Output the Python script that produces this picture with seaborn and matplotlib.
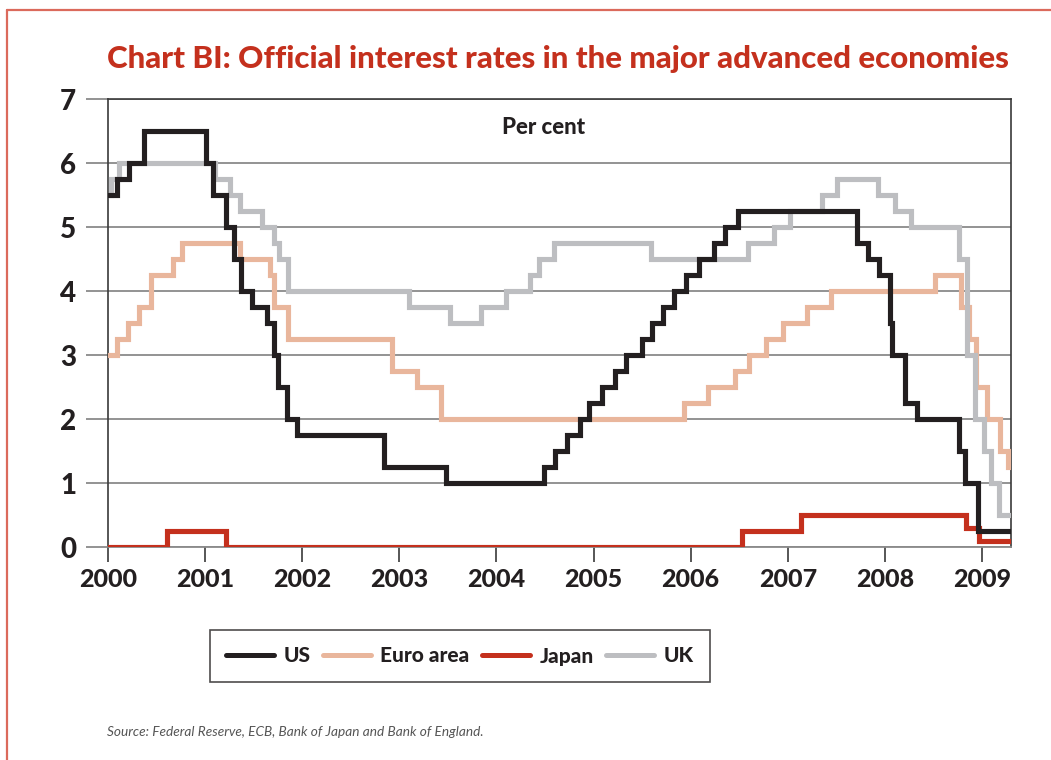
import matplotlib
matplotlib.use("Agg")
import matplotlib.pyplot as plt
from matplotlib.lines import Line2D
import seaborn as sns
import pandas as pd

# ---------------- data (policy rate changes: date -> new rate, per cent) ----------------
END_DATE = "2009-04-20"

us_dates = ["2000-01-01", "2000-02-02", "2000-03-21", "2000-05-16",
            "2001-01-03", "2001-01-31", "2001-03-20", "2001-04-18", "2001-05-15",
            "2001-06-27", "2001-08-21", "2001-09-17", "2001-10-02", "2001-11-06",
            "2001-12-11", "2002-11-06", "2003-06-25",
            "2004-06-30", "2004-08-10", "2004-09-21", "2004-11-10", "2004-12-14",
            "2005-02-02", "2005-03-22", "2005-05-03", "2005-06-30", "2005-08-09",
            "2005-09-20", "2005-11-01", "2005-12-13",
            "2006-01-31", "2006-03-28", "2006-05-10", "2006-06-29",
            "2007-09-18", "2007-10-31", "2007-12-11",
            "2008-01-22", "2008-01-30", "2008-03-18", "2008-04-30",
            "2008-10-08", "2008-10-29", "2008-12-16", END_DATE]
us_rates = [5.5, 5.75, 6.0, 6.5,
            6.0, 5.5, 5.0, 4.5, 4.0,
            3.75, 3.5, 3.0, 2.5, 2.0,
            1.75, 1.25, 1.0,
            1.25, 1.5, 1.75, 2.0, 2.25,
            2.5, 2.75, 3.0, 3.25, 3.5,
            3.75, 4.0, 4.25,
            4.5, 4.75, 5.0, 5.25,
            4.75, 4.5, 4.25,
            3.5, 3.0, 2.25, 2.0,
            1.5, 1.0, 0.25, 0.25]

euro_dates = ["2000-01-01", "2000-02-04", "2000-03-17", "2000-04-28", "2000-06-09",
              "2000-09-01", "2000-10-06", "2001-05-11", "2001-08-31", "2001-09-18",
              "2001-11-09", "2002-12-06", "2003-03-07", "2003-06-06", "2005-12-06",
              "2006-03-08", "2006-06-15", "2006-08-09", "2006-10-11", "2006-12-13",
              "2007-03-14", "2007-06-13", "2008-07-09", "2008-10-15", "2008-11-12",
              "2008-12-10", "2009-01-21", "2009-03-11", "2009-04-08", END_DATE]
euro_rates = [3.0, 3.25, 3.5, 3.75, 4.25,
              4.5, 4.75, 4.5, 4.25, 3.75,
              3.25, 2.75, 2.5, 2.0, 2.25,
              2.5, 2.75, 3.0, 3.25, 3.5,
              3.75, 4.0, 4.25, 3.75, 3.25,
              2.5, 2.0, 1.5, 1.25, 1.25]

japan_dates = ["2000-01-01", "2000-08-11", "2001-03-19", "2006-07-14",
               "2007-02-21", "2008-10-31", "2008-12-19", END_DATE]
japan_rates = [0.0, 0.25, 0.0, 0.25, 0.5, 0.3, 0.1, 0.1]

uk_dates = ["2000-01-01", "2000-01-13", "2000-02-10",
            "2001-02-08", "2001-04-05", "2001-05-10", "2001-08-02", "2001-09-18",
            "2001-10-04", "2001-11-08", "2003-02-06", "2003-07-10", "2003-11-06",
            "2004-02-05", "2004-05-06", "2004-06-10", "2004-08-05", "2005-08-04",
            "2006-08-03", "2006-11-09", "2007-01-11", "2007-05-10", "2007-07-05",
            "2007-12-06", "2008-02-07", "2008-04-10", "2008-10-08", "2008-11-06",
            "2008-12-04", "2009-01-08", "2009-02-05", "2009-03-05", END_DATE]
uk_rates = [5.5, 5.75, 6.0,
            5.75, 5.5, 5.25, 5.0, 4.75,
            4.5, 4.0, 3.75, 3.5, 3.75,
            4.0, 4.25, 4.5, 4.75, 4.5,
            4.75, 5.0, 5.25, 5.5, 5.75,
            5.5, 5.25, 5.0, 4.5, 3.0,
            2.0, 1.5, 1.0, 0.5, 0.5]

series_names = ["US", "Euro area", "Japan", "UK"]
series_colors = ["#231f20", "#e9b69c", "#c4301d", "#bdbec1"]
year_ticks = list(range(2000, 2010))
y_ticks = list(range(0, 8))

# ---------------- build table ----------------
frames = []
for name, d, r in [("US", us_dates, us_rates), ("Euro area", euro_dates, euro_rates),
                   ("Japan", japan_dates, japan_rates), ("UK", uk_dates, uk_rates)]:
    frames.append(pd.DataFrame({"date": pd.to_datetime(d), "rate": r, "economy": name}))
df = pd.concat(frames, ignore_index=True)

# ---------------- style ----------------
sns.set_theme(style="white")
plt.rcParams["font.family"] = ["Lato", "DejaVu Sans"]
HEAVY = "black"

fig = plt.figure(figsize=(10.51, 7.60), dpi=100)
W, H = 1051, 760
ax = fig.add_axes([108 / W, 1 - 547 / H, (1011 - 108) / W, (547 - 99) / H])

draw_order = ["Euro area", "Japan", "UK", "US"]
color_map = dict(zip(series_names, series_colors))
for z, name in enumerate(draw_order):
    sub = df[df["economy"] == name]
    sns.lineplot(data=sub, x="date", y="rate", ax=ax, color=color_map[name],
                 linewidth=3.7, drawstyle="steps-post", zorder=3 + z,
                 solid_joinstyle="miter", legend=False)

ax.set_xlim(pd.Timestamp("2000-01-01"), pd.Timestamp(END_DATE))
ax.set_ylim(0, 7)
ax.set_xlabel("")
ax.set_ylabel("")

ax.set_yticks(y_ticks)
ax.set_yticklabels([str(v) for v in y_ticks])
ax.set_xticks([pd.Timestamp(f"{y}-01-01") for y in year_ticks])
ax.set_xticklabels([str(y) for y in year_ticks])

ax.yaxis.grid(True, color="#8a8a8a", linewidth=1.3)
ax.xaxis.grid(False)
ax.tick_params(axis="y", which="major", length=16, width=1.3, color="#8a8a8a",
               direction="out", pad=7, labelsize=20, labelcolor="#231f20", left=True)
ax.tick_params(axis="x", which="major", length=11, width=1.2, color="#3a3a3a",
               direction="out", pad=4, labelsize=18, labelcolor="#231f20", bottom=True)
for lab in ax.get_xticklabels() + ax.get_yticklabels():
    lab.set_fontweight(HEAVY)

for side in ["left", "right", "top"]:
    ax.spines[side].set_visible(True)
    ax.spines[side].set_color("#3a3a3a")
    ax.spines[side].set_linewidth(1.2)
ax.spines["bottom"].set_color("#8a8a8a")
ax.spines["bottom"].set_linewidth(1.3)

ax.text(0.482, 0.9375, "Per cent", transform=ax.transAxes, ha="center", va="center",
        fontsize=16, fontweight=HEAVY, color="#231f20")

# title
fig.text(558 / W, 1 - 59 / H,
         "Chart BI: Official interest rates in the major advanced economies",
         ha="center", va="center", fontsize=22.5, fontweight=HEAVY, color="#c4301d")

# legend
handles = [Line2D([0], [0], color=color_map[n], lw=3.6, solid_capstyle="round")
           for n in series_names]
leg = fig.legend(handles, series_names, loc="center", bbox_to_anchor=(460 / W, 1 - 656 / H),
                 ncol=4, frameon=True, fancybox=False,
                 handlelength=2.3, handletextpad=0.45, columnspacing=0.6,
                 borderpad=0.8, prop={"weight": HEAVY, "size": 15})
leg.get_frame().set_edgecolor("#231f20")
leg.get_frame().set_linewidth(1.2)
for t in leg.get_texts():
    t.set_color("#231f20")

# source
fig.text(107 / W, 1 - 732 / H, "Source: Federal Reserve, ECB, Bank of Japan and Bank of England.",
         ha="left", va="center", fontsize=9.8, style="italic", color="#555555")

# page frame
fc = "#db6a5c"
fig.add_artist(Line2D([7 / W, 7 / W], [0, 1 - 10 / H], color=fc, lw=1.6,
                      transform=fig.transFigure))
fig.add_artist(Line2D([7 / W, 1], [1 - 10 / H, 1 - 10 / H], color=fc, lw=1.6,
                      transform=fig.transFigure))

fig.savefig("out.png", dpi=100)
